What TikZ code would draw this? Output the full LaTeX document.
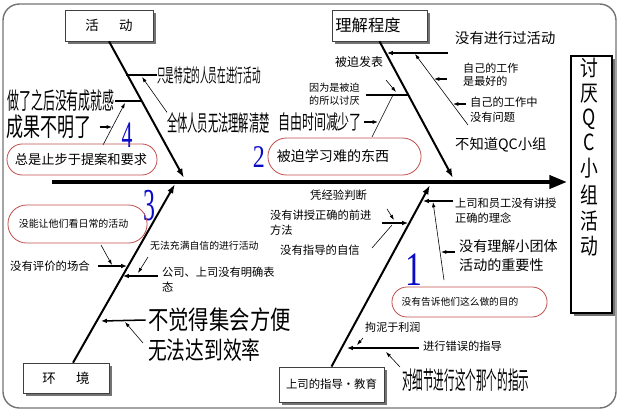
\documentclass[tikz,border=0pt]{standalone}
\usepackage{fontspec}
\usepackage{graphicx}
\usetikzlibrary{arrows.meta,shadows,positioning}
\newfontfamily\cjk{Noto Sans CJK SC}
\newfontfamily\numfont{Liberation Serif}
\newcommand{\nar}[2]{\scalebox{#1}[1]{#2}}
\definecolor{ovalred}{RGB}{192,80,77}
\definecolor{numblue}{RGB}{10,10,200}
\tikzset{
  lbl/.style 2 args={inner sep=0pt, anchor=west, align=left, font=\cjk\fontsize{#1}{#2}\selectfont},
  num/.style={inner sep=0pt, text=numblue, font=\numfont\fontsize{#1}{#1}\selectfont},
  catbox/.style={draw=black!75, line width=0.6pt, fill=white, inner sep=0pt,
    drop shadow={shadow xshift=2.5pt, shadow yshift=-2.5pt, fill=black!55, opacity=1}},
  ovalbox/.style={draw=ovalred, line width=0.7pt, rounded corners=13pt, inner sep=0pt},
  bone/.style={line width=1.7pt, -{Latex[length=8pt,width=5.5pt]}},
  twig/.style={line width=1.4pt},
  twigarr/.style={line width=1.3pt, -{Latex[length=5pt,width=4pt]}},
  medarr/.style={line width=0.9pt, -{Latex[length=4.5pt,width=3.5pt]}},
  hair/.style={line width=0.5pt},
  hairarr/.style={line width=0.5pt, -{Latex[length=4.5pt,width=3pt]}}
}
\begin{document}
\begin{tikzpicture}[x=0.03cm, y=-0.03cm]
\useasboundingbox (0,0) rectangle (620,412);
\draw[black!55, line width=1.2pt, rounded corners=14pt] (3,4) rectangle (616,408);
\coordinate (S0) at (52,182);
\coordinate (S1) at (567,182);
\draw[line width=3.4pt, -{Triangle[length=15pt,width=11pt]}] (S0) -- (S1);
\node[draw, line width=1.2pt, fill=white, minimum width=35pt, minimum height=219.5pt,
  drop shadow={shadow xshift=2.5pt, shadow yshift=-2.5pt, fill=black!55, opacity=1}] (eff) at (591.5,184.5) {};
\node[inner sep=0pt, font=\cjk\fontsize{19}{21.3}\selectfont] (efft) at (589,160)
  {\nar{0.8}{\begin{tabular}{@{}c@{}}讨\\厌\\Q\\C\\小\\组\\活\\动\end{tabular}}};
\node[catbox, minimum width=75pt, minimum height=26.5pt, font=\cjk\fontsize{11.5}{13}\selectfont] (act) at (109,25.5) {活\hspace{1.5em}动};
\node[catbox, minimum width=81pt, minimum height=26.5pt] (und) at (379.5,25.5) {};
\node[lbl={13.9}{15}] (undt) at ([xshift=3pt]und.west) {理解程度};
\node[catbox, minimum width=73.4pt, minimum height=25.6pt, font=\cjk\fontsize{11.5}{13}\selectfont] (env) at (66,378) {环\hspace{1.5em}境};
\node[catbox, minimum width=89.7pt, minimum height=30pt, font=\cjk\fontsize{9.7}{12}\selectfont] (sup) at (331.5,384.5) {上司的指导・教育};
\coordinate (E1) at (184,178);
\coordinate (E2) at (453,178);
\coordinate (E3) at (175,184);
\coordinate (E4) at (430,185);
\draw[bone] (act.south) -- (E1);
\draw[bone] (und.south) -- (E2);
\draw[bone] ([xshift=6pt]env.north) -- (E3);
\draw[bone] (sup.north) -- (E4);

\node[lbl={16}{16}] (t11) at (157,75) {\nar{0.46}{只是特定的人员在进行活动}};
\coordinate (b11) at (126,75);
\draw[twig] (b11) -- (t11.west);
\node[lbl={19}{19}] (t12) at (167,123) {\nar{0.46}{全体人员无法理解清楚}};
\coordinate (c12) at (142,77);
\draw[hairarr] (t12.north west) -- (c12);
\node[lbl={20}{20}, anchor=east] (t13) at (115,101) {\nar{0.51}{做了之后没有成就感}};
\coordinate (b13) at (142,101);
\draw[twig] (t13.east) -- (b13);
\node[lbl={22}{22}] (t14) at (6,127) {\nar{0.66}{成果不明了}};
\coordinate (c14) at (112,127);
\draw[medarr] ([xshift=7pt]t14.east) -- (c14);
\coordinate (h4a) at (103,145);
\coordinate (h4b) at (125,103);
\draw[hairarr] (h4a) -- (h4b);
\node[num=32] (n4) at (127,135) {\nar{0.58}{4}};
\node[ovalbox, minimum width=128pt, minimum height=26.5pt] (o4) at (82,159.5) {};
\node[lbl={11.3}{13}] (t4) at ([xshift=6.8pt]o4.west) {总是止步于提案和要求};

\node[lbl={12.2}{14}] (t21) at (455,38) {没有进行过活动};
\coordinate (a21) at (448,53);
\coordinate (b21) at (387,53);
\draw[twigarr] (a21) -- (b21);
\coordinate (h21a) at (468,125);
\coordinate (h21b) at (415,54);
\draw[hairarr] (h21a) -- (h21b);
\node[lbl={9.4}{11}] (t22) at (463,74.5) {自己的工作\\是最好的};
\coordinate (a22) at (447,79);
\coordinate (b22) at (434,79);
\draw[medarr] (a22) -- (b22);
\node[lbl={9.6}{12.8}] (t23) at (470,109.5) {自己的工作中\\没有问题};
\coordinate (a23) at (466,104);
\coordinate (b23) at (453,104);
\draw[medarr] (a23) -- (b23);
\node[lbl={12.2}{14}] (t24) at (455,145) {不知道QC小组};
\node[lbl={10.2}{12}] (t25) at (335,62) {被迫发表};
\coordinate (h25a) at (386,80);
\coordinate (h25b) at (396,92);
\draw[hairarr] (h25a) -- (h25b);
\node[lbl={8.6}{11}] (t26) at (309,94.5) {因为是被迫\\的所以讨厌};
\coordinate (a26) at (366,95);
\coordinate (b26) at (409,95);
\draw[twig] (a26) -- (b26);
\coordinate (h26a) at (372,137);
\coordinate (h26b) at (393,95);
\draw[hair] (h26a) -- (h26b);
\node[lbl={17}{17}] (t27) at (278,122) {\nar{0.6}{自由时间减少了}};
\coordinate (c27) at (378,122);
\draw[medarr] ([xshift=1.5pt]t27.east) -- (c27);
\node[num=27] (n2) at (259,157) {\nar{0.76}{2}};
\node[ovalbox, minimum width=130.7pt, minimum height=31.6pt, rounded corners=15.8pt] (o2) at (344.5,156.5) {};
\node[lbl={12}{14}] (t2) at ([xshift=7.7pt]o2.west) {被迫学习难的东西};

\node[num=39] (n3) at (149,206) {\nar{0.52}{3}};
\node[ovalbox, minimum width=118.7pt, minimum height=32.5pt, rounded corners=16pt] (o3) at (77.5,224) {};
\node[lbl={8.5}{10}] (t3) at ([xshift=9.4pt]o3.west) {没能让他们看日常的活动};
\coordinate (h31a) at (101,245);
\coordinate (h31b) at (112,265);
\draw[hairarr] (h31a) -- (h31b);
\node[lbl={9.7}{12}] (t31) at (10,266) {没有评价的场合};
\coordinate (b31) at (127,266);
\draw[twigarr] ([xshift=7pt]t31.east) -- (b31);
\node[lbl={8.4}{10}] (t32) at (150,246) {无法充满自信的进行活动};
\coordinate (h32a) at (148,257);
\coordinate (h32b) at (138,273);
\draw[hairarr] (h32a) -- (h32b);
\node[lbl={9.6}{12.8}] (t33) at (162,279.5) {公司、上司没有明确表\\态};
\coordinate (a33) at (158,276);
\coordinate (b33) at (123,276);
\draw[twigarr] (a33) -- (b33);
\node[lbl={22}{22}] (t34) at (148,320) {\nar{0.79}{不觉得集会方便}};
\coordinate (b34) at (101,321);
\draw[twigarr] ([xshift=-2pt]t34.west) -- (b34);
\node[lbl={21}{21}] (t35) at (148,350) {\nar{0.76}{无法达到效率}};
\coordinate (h35a) at (143,343);
\coordinate (h35b) at (125,322);
\draw[hairarr] (h35a) -- (h35b);

\node[lbl={9.7}{12}] (t41) at (310,195) {凭经验判断};
\coordinate (h41a) at (387,209);
\coordinate (h41b) at (394,220);
\draw[hairarr] (h41a) -- (h41b);
\node[lbl={9.6}{12.8}] (t42) at (270,222.5) {没有讲授正确的前进\\方法};
\coordinate (a42) at (382,223);
\coordinate (b42) at (408,223);
\draw[twigarr] (a42) -- (b42);
\node[lbl={9.7}{12}] (t43) at (280,250) {没有指导的自信};
\coordinate (h43a) at (372,248);
\coordinate (h43b) at (392,225);
\draw[hair] (h43a) -- (h43b);
\node[lbl={9.6}{12.8}] (t44) at (455,210.5) {上司和员工没有讲授\\正确的理念};
\coordinate (a44) at (453,201);
\coordinate (b44) at (423,201);
\draw[twigarr] (a44) -- (b44);
\coordinate (h44a) at (444,280);
\coordinate (h44b) at (433,202);
\draw[hairarr] (h44a) -- (h44b);
\node[lbl={12}{16}] (t45) at (459,255.5) {没有理解小团体\\活动的重要性};
\coordinate (a45) at (455,252);
\coordinate (b45) at (441,252);
\draw[medarr] (a45) -- (b45);
\node[num=41] (n1) at (414,270) {\nar{0.7}{1}};
\node[ovalbox, minimum width=132.4pt, minimum height=25.6pt, rounded corners=12.8pt] (o1) at (469.5,302) {};
\node[lbl={8.3}{10}] (t1) at ([xshift=8.5pt]o1.west) {没有告诉他们这么做的目的};
\node[lbl={9.4}{12}] (t46) at (365,327) {拘泥于利润};
\coordinate (h46a) at (363,338);
\coordinate (h46b) at (357,345);
\draw[hairarr] (h46a) -- (h46b);
\node[lbl={9.6}{12}] (t47) at (423,346) {进行错误的指导};
\coordinate (b47) at (347,348);
\draw[twigarr] ([xshift=-3pt]t47.west |- 0,348) -- (b47);
\coordinate (h47a) at (400,367);
\coordinate (h47b) at (386,352);
\draw[hairarr] (h47a) -- (h47b);
\node[lbl={21}{21}] (t48) at (402,380) {\nar{0.43}{对细节进行这个那个的指示}};
\end{tikzpicture}
\end{document}
